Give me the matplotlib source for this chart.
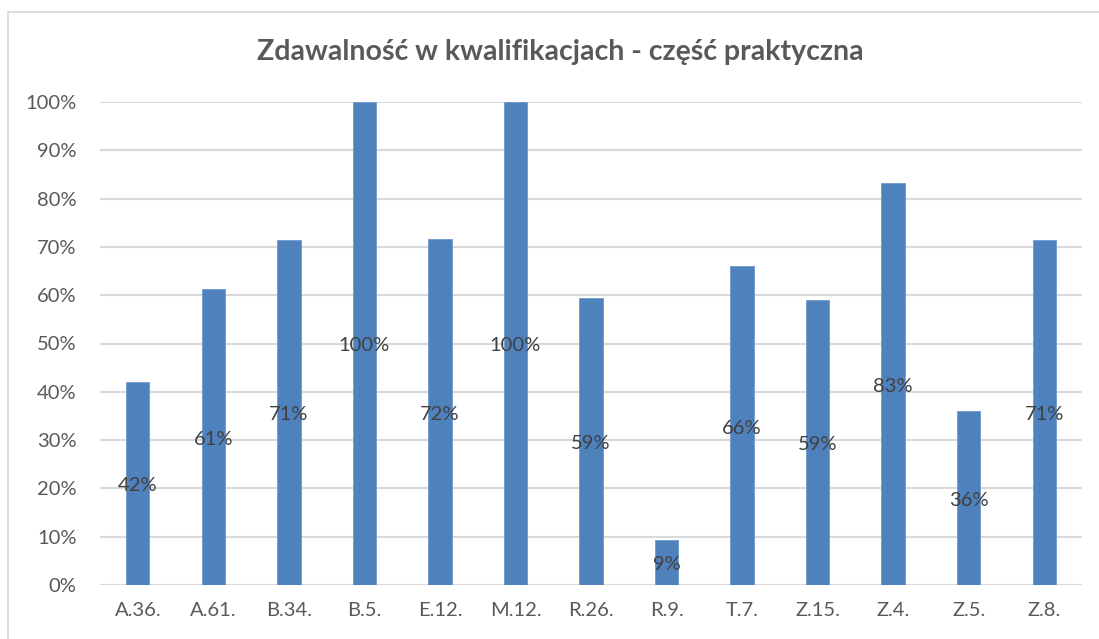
import numpy as np
import matplotlib
matplotlib.use("Agg")
from matplotlib import pyplot as plt
from matplotlib.lines import Line2D

# dane z wykresu
kwalifikacje = ["A.36.", "A.61.", "B.34.", "B.5.", "E.12.", "M.12.", "R.26.",
                "R.9.", "T.7.", "Z.15.", "Z.4.", "Z.5.", "Z.8."]
zdawalnosc = [0.421, 0.612, 0.714, 1.0, 0.716, 1.0, 0.594,
              0.093, 0.660, 0.590, 0.832, 0.360, 0.714]
etykiety = ["42%", "61%", "71%", "100%", "72%", "100%", "59%",
            "9%", "66%", "59%", "83%", "36%", "71%"]
yticks = np.arange(0, 1.01, 0.1)
ytick_labels = [f"{int(round(v*100))}%" for v in yticks]

W, H = 1099, 639
plt.rcParams['font.family'] = ['Lato', 'DejaVu Sans']

fig = plt.figure(figsize=(W/100, H/100), dpi=100)
# ramka wykresu (widoczna tylko góra i lewa strona)
fig.add_artist(Line2D([8/W, 1.0], [1 - 12/H, 1 - 12/H], transform=fig.transFigure,
                      color="#d9d9d9", linewidth=1.3))
fig.add_artist(Line2D([8/W, 8/W], [0, 1 - 12/H], transform=fig.transFigure,
                      color="#d9d9d9", linewidth=1.3))

ax = fig.add_axes([100/W, 1 - 585/H, (1082-100)/W, (585-102)/H])
x = np.arange(len(kwalifikacje))
ax.bar(x, zdawalnosc, width=0.31, color="#4f81bd", edgecolor="#6f9bd1",
       linewidth=0.6, zorder=3)

for xi, v, lab in zip(x, zdawalnosc, etykiety):
    ax.text(xi, v/2 - 0.005, lab, ha="center", va="center", fontsize=14.5,
            color="#404040", zorder=4)

ax.set_xlim(-0.5, len(kwalifikacje) - 0.5)
ax.set_ylim(0, 1)
ax.set_yticks(yticks)
ax.set_yticklabels(ytick_labels)
ax.set_xticks(x)
ax.set_xticklabels(kwalifikacje)
ax.tick_params(axis="both", length=0, labelsize=14.5, labelcolor="#595959")
ax.tick_params(axis="y", pad=17)
ax.tick_params(axis="x", pad=12)
ax.grid(axis="y", color="#d9d9d9", linewidth=1.5, zorder=0)
for s in ax.spines.values():
    s.set_visible(False)

fig.text(560/W, 1 - 52/H, "Zdawalność w kwalifikacjach - część praktyczna",
         ha="center", va="center", fontsize=20.5, fontweight="bold", color="#595959")

fig.savefig("out.png", dpi=100)
